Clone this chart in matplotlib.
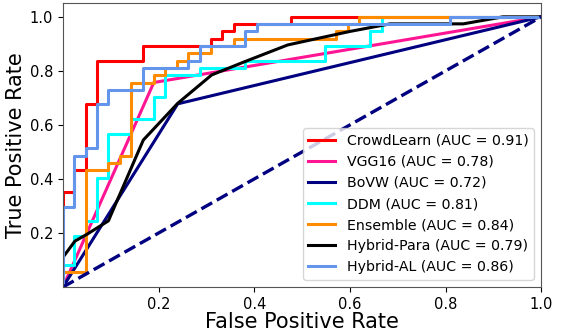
import matplotlib
matplotlib.use("Agg")
import matplotlib.pyplot as plt

labels = ["CrowdLearn", "VGG16", "BoVW", "DDM", "Ensemble", "Hybrid-Para", "Hybrid-AL"]
aucs = [0.91, 0.78, 0.72, 0.81, 0.84, 0.79, 0.86]
colors = ["red", "deeppink", "navy", "aqua", "darkorange", "black", "cornflowerblue"]

crowd_fpr = [0.0, 0.0, 0.024, 0.024, 0.048, 0.048, 0.071, 0.071, 0.167, 0.167, 0.310, 0.310, 0.333, 0.333, 0.357, 0.357, 0.476, 0.476, 1.0]
crowd_tpr = [0.0, 0.351, 0.351, 0.432, 0.432, 0.676, 0.676, 0.838, 0.838, 0.892, 0.892, 0.919, 0.919, 0.946, 0.946, 0.973, 0.973, 1.0, 1.0]

vgg_fpr = [0.0, 0.19, 1.0]
vgg_tpr = [0.0, 0.757, 1.0]

bovw_fpr = [0.0, 0.24, 1.0]
bovw_tpr = [0.0, 0.678, 1.0]

ddm_fpr = [0.0, 0.0, 0.024, 0.024, 0.048, 0.048, 0.071, 0.071, 0.095, 0.095, 0.143, 0.143, 0.190, 0.190, 0.214, 0.214, 0.286, 0.286, 0.381, 0.381, 0.548, 0.548, 0.643, 0.643, 0.667, 0.667, 1.0]
ddm_tpr = [0.0, 0.081, 0.081, 0.189, 0.189, 0.243, 0.243, 0.405, 0.405, 0.568, 0.568, 0.622, 0.622, 0.703, 0.703, 0.784, 0.784, 0.811, 0.811, 0.838, 0.838, 0.892, 0.892, 0.946, 0.946, 1.0, 1.0]

ens_fpr = [0.0, 0.0, 0.048, 0.048, 0.095, 0.095, 0.119, 0.119, 0.143, 0.143, 0.190, 0.190, 0.214, 0.214, 0.238, 0.238, 0.262, 0.262, 0.310, 0.310, 0.357, 0.357, 0.571, 0.571, 0.595, 0.595, 0.619, 0.619, 1.0]
ens_tpr = [0.0, 0.054, 0.054, 0.432, 0.432, 0.459, 0.459, 0.486, 0.486, 0.757, 0.757, 0.784, 0.784, 0.811, 0.811, 0.838, 0.838, 0.865, 0.865, 0.892, 0.892, 0.919, 0.919, 0.946, 0.946, 0.973, 0.973, 1.0, 1.0]

para_fpr = [0.0, 0.0, 0.025, 0.05, 0.095, 0.168, 0.24, 0.311, 0.38, 0.47, 0.6, 0.684, 0.837, 0.92, 1.0]
para_tpr = [0.0, 0.11, 0.17, 0.195, 0.245, 0.544, 0.68, 0.785, 0.834, 0.896, 0.946, 0.974, 0.974, 1.0, 1.0]

al_fpr = [0.0, 0.0, 0.024, 0.024, 0.048, 0.048, 0.071, 0.071, 0.095, 0.095, 0.167, 0.167, 0.262, 0.262, 0.286, 0.286, 0.381, 0.381, 0.405, 0.405, 0.810, 0.810, 1.0]
al_tpr = [0.0, 0.297, 0.297, 0.486, 0.486, 0.514, 0.514, 0.676, 0.676, 0.730, 0.730, 0.811, 0.811, 0.838, 0.838, 0.892, 0.892, 0.946, 0.946, 0.973, 0.973, 1.0, 1.0]

curves = [(crowd_fpr, crowd_tpr), (vgg_fpr, vgg_tpr), (bovw_fpr, bovw_tpr),
          (ddm_fpr, ddm_tpr), (ens_fpr, ens_tpr), (para_fpr, para_tpr), (al_fpr, al_tpr)]

ticks = [0.2, 0.4, 0.6, 0.8, 1.0]
tick_labels = ["0.2", "0.4", "0.6", "0.8", "1.0"]

fig = plt.figure(figsize=(5.62, 3.33), dpi=100)
ax = fig.add_axes([0.112, 0.138, 0.851, 0.852])

for (f, t), lab, a, c in zip(curves, labels, aucs, colors):
    ax.plot(f, t, color=c, lw=2.2, label=f"{lab} (AUC = {a:.2f})")

ax.plot([0, 1], [0, 1], color="navy", lw=2.4, linestyle="--")

ax.set_xlim(0.0, 1.0)
ax.set_ylim(0.0, 1.05)
ax.set_xticks(ticks)
ax.set_xticklabels(tick_labels)
ax.set_yticks(ticks)
ax.set_yticklabels(tick_labels)
ax.tick_params(labelsize=10.5)
for s in ax.spines.values():
    s.set_color("#555555")
ax.set_xlabel("False Positive Rate", fontsize=15, labelpad=0)
ax.set_ylabel("True Positive Rate", fontsize=15, labelpad=3)
ax.legend(loc="lower right", fontsize=10.2, handlelength=1.9)

fig.savefig("out.png", dpi=100)
